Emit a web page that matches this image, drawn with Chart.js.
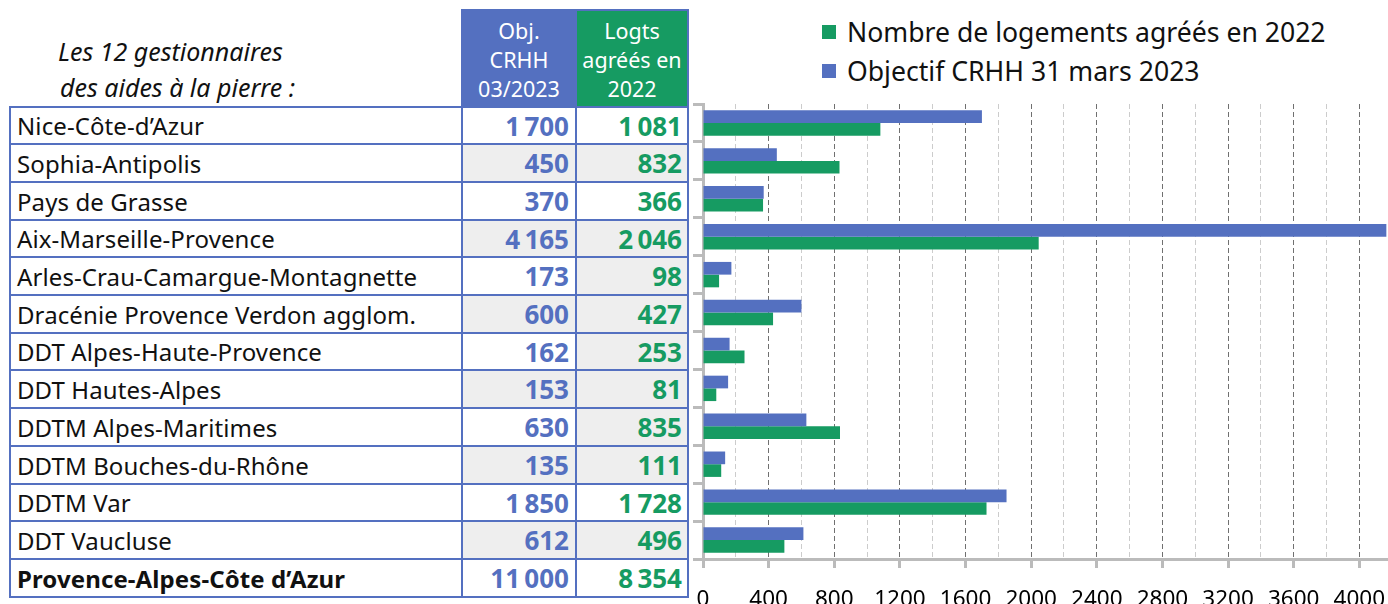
<!DOCTYPE html>
<html lang="fr">
<head>
<meta charset="utf-8">
<script src="https://cdn.jsdelivr.net/npm/chart.js@4"></script>
<style>
  html, body { margin: 0; padding: 0; background: #fff; overflow: hidden; }
  body { width: 1388px; height: 604px; position: relative; font-family: "Noto Sans", sans-serif; }
  .cell { position: absolute; box-sizing: border-box; border: 2px solid #5470c0; display: flex; align-items: center; white-space: nowrap; }
  .lbl { font-size: 24px; color: #111; padding-left: 6px; justify-content: flex-start; letter-spacing: 0.1px; }
  .num { font-size: 26px; font-weight: bold; justify-content: flex-end; padding-right: 5px; }
  .head { color: #fff; font-size: 21.5px; line-height: 29px; text-align: center; justify-content: center; padding-top: 2px; }
  .intro { position: absolute; font-style: italic; font-size: 25px; color: #111; }
  #legend { position: absolute; left: 822px; top: 12px; font-size: 26.6px; color: #111; }
  #legend div { display: flex; align-items: center; height: 39px; }
  #legend span.box { width: 14px; height: 14px; margin-right: 11px; }
  #wrap { position: absolute; left: 690px; top: 0; width: 698px; height: 632px; }
</style>
</head>
<body>
<div class="intro" style="left:58px; top:34px;">Les 12 gestionnaires</div>
<div class="intro" style="left:60px; top:70px;">des aides à la pierre :</div>
<div id="table"></div>
<div id="legend"></div>
<div id="wrap"><canvas id="chart"></canvas></div>
<script>
const categories = [
  'Nice-Côte-d’Azur',
  'Sophia-Antipolis',
  'Pays de Grasse',
  'Aix-Marseille-Provence',
  'Arles-Crau-Camargue-Montagnette',
  'Dracénie Provence Verdon agglom.',
  'DDT Alpes-Haute-Provence',
  'DDT Hautes-Alpes',
  'DDTM Alpes-Maritimes',
  'DDTM Bouches-du-Rhône',
  'DDTM Var',
  'DDT Vaucluse',
];
const objectifs = [1700, 450, 370, 4165, 173, 600, 162, 153, 630, 135, 1850, 612];
const logements = [1081, 832, 366, 2046, 98, 427, 253, 81, 835, 111, 1728, 496];
const totalLabel = 'Provence-Alpes-Côte d’Azur';
const xTicks = [0, 200, 400, 600, 800, 1000, 1200, 1400, 1600, 1800, 2000, 2200, 2400, 2600, 2800, 3000, 3200, 3400, 3600, 3800, 4000];
// grey background pattern of the two number columns, row by row
const greyObj = [0, 1, 0, 1, 0, 1, 0, 1, 0, 1, 0, 1];
const greyLog = [0, 1, 0, 1, 1, 1, 1, 1, 1, 1, 0, 1];

const BLUE = '#5470c0';
const GREEN = '#169b62';

const fmt = (n) => String(n).replace(/\B(?=(\d{3})+(?!\d))/g, '\u202f');

// table
const table = document.getElementById('table');
const cols = [[10, 452], [462, 114], [576, 112]];
const ROW0 = 106.5;
const ROWH = 37.7;

function cell(x, y, w, h, cls, html, style) {
  const d = document.createElement('div');
  d.className = 'cell ' + cls;
  const top = Math.round(y) - 1;
  d.style.left = (x - 1) + 'px';
  d.style.top = top + 'px';
  d.style.width = (w + 2) + 'px';
  d.style.height = (Math.round(y + h) + 1 - top) + 'px';
  if (style) Object.assign(d.style, style);
  d.innerHTML = html;
  table.appendChild(d);
}

cell(cols[1][0], 10, cols[1][1], ROW0 - 10, 'head', 'Obj.<br>CRHH<br>03/2023', { background: BLUE });
cell(cols[2][0], 10, cols[2][1], ROW0 - 10, 'head', 'Logts<br>agréés en<br>2022', { background: GREEN });

const rows = categories.map((c, i) => [c, objectifs[i], logements[i], greyObj[i], greyLog[i]]);
rows.push([totalLabel, objectifs.reduce((a, b) => a + b, 0), logements.reduce((a, b) => a + b, 0), 0, 0]);

rows.forEach(([name, o, l, go, gl], i) => {
  const y = ROW0 + i * ROWH;
  const last = i === rows.length - 1;
  cell(cols[0][0], y, cols[0][1], ROWH, 'lbl', name, { fontWeight: last ? 'bold' : 'normal', background: '#fff' });
  cell(cols[1][0], y, cols[1][1], ROWH, 'num', fmt(o), { color: BLUE, background: go ? '#eeeeee' : '#fff', paddingRight: '6px' });
  cell(cols[2][0], y, cols[2][1], ROWH, 'num', fmt(l), { color: GREEN, background: gl ? '#eeeeee' : '#fff' });
});

const major = (ctx) => ctx.tick && ctx.tick.value % 400 === 0;

// chart
const chart = new Chart(document.getElementById('chart'), {
  type: 'bar',
  data: {
    labels: categories,
    datasets: [
      { label: 'Objectif CRHH 31 mars 2023', data: objectifs, backgroundColor: BLUE },
      { label: 'Nombre de logements agréés en 2022', data: logements, backgroundColor: GREEN },
    ],
  },
  options: {
    indexAxis: 'y',
    responsive: true,
    maintainAspectRatio: false,
    animation: false,
    categoryPercentage: 0.67,
    barPercentage: 1,
    layout: { padding: { left: 3, top: 104, right: 0, bottom: 0 } },
    plugins: { legend: { display: false }, tooltip: { enabled: false } },
    scales: {
      x: {
        min: 0,
        max: 4175,
        afterBuildTicks: (scale) => {
          scale.ticks = xTicks.map((v) => ({ value: v }));
        },
        border: { color: '#bbb', width: 3, dash: [5, 3] },
        grid: {
          color: (ctx) => (major(ctx) ? '#707070' : '#cccccc'),
          tickColor: (ctx) => (major(ctx) ? '#bbb' : 'rgba(0,0,0,0)'),
          tickLength: 9,
          tickWidth: 3,
          lineWidth: 1,
        },
        ticks: {
          maxRotation: 0,
          autoSkip: false,
          padding: 0,
          color: '#000',
          font: { family: 'Noto Sans', size: 22.5, lineHeight: '64px' },
          callback: (v) => (v % 400 === 0 ? String(v) : ''),
        },
      },
      y: {
        border: { color: '#bbb', width: 3 },
        grid: { drawOnChartArea: false, color: '#bbb', tickLength: 10, lineWidth: 3 },
        ticks: { display: false },
      },
    },
  },
});

// legend, green first as in the reference
const legend = document.getElementById('legend');
chart.data.datasets.slice().reverse().forEach((ds) => {
  const row = document.createElement('div');
  row.innerHTML = '<span class="box" style="background:' + ds.backgroundColor + '"></span>' + ds.label;
  legend.appendChild(row);
});
</script>
</body>
</html>
